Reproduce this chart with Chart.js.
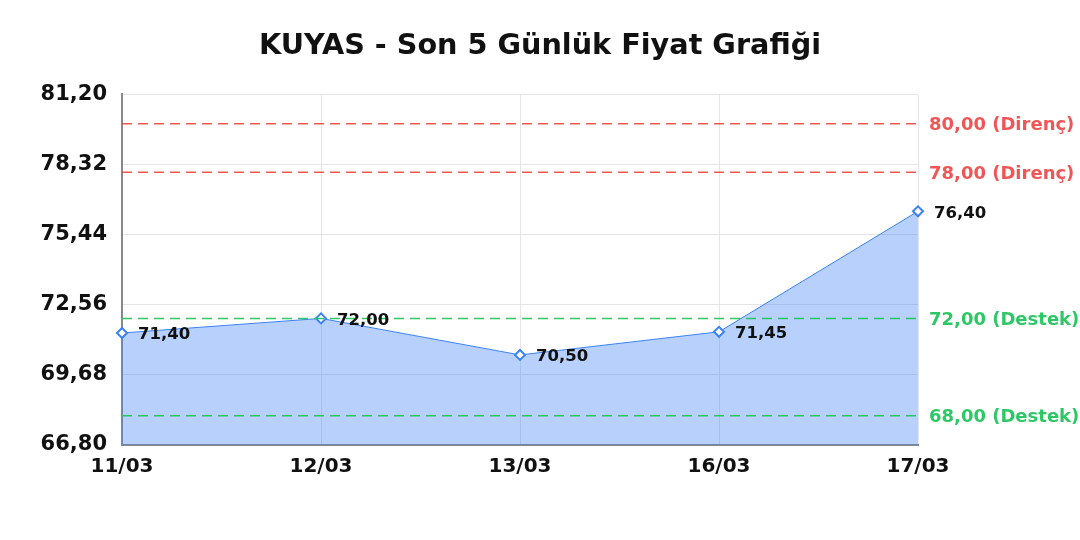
<!DOCTYPE html>
<html>
<head>
<meta charset="utf-8">
<script src="https://cdn.jsdelivr.net/npm/chart.js@4"></script>
<style>
  html, body { margin: 0; padding: 0; background: #fff; }
  #wrap { width: 1080px; height: 540px; }
</style>
</head>
<body>
<div id="wrap"><canvas id="priceChart"></canvas></div>
<script>
// data
const labels = ["11/03", "12/03", "13/03", "16/03", "17/03"];
const prices = [71.40, 72.00, 70.50, 71.45, 76.40];
const yTicks = [66.80, 69.68, 72.56, 75.44, 78.32, 81.20];
const levelValues = [80.00, 78.00, 72.00, 68.00];
const levelNames = ["Direnç", "Direnç", "Destek", "Destek"];

const RED = "rgba(239, 68, 68, 0.9)";
const GREEN = "rgba(34, 197, 94, 0.95)";
const fmt = v => v.toFixed(2).replace(".", ",");

// Support / resistance lines with labels on the right
const levelsPlugin = {
    id: "levels",
    afterDatasetsDraw(chart) {
        const ctx = chart.ctx;
        const area = chart.chartArea;
        const y = chart.scales.y;
        ctx.save();
        levelValues.forEach((v, i) => {
            const color = levelNames[i] === "Direnç" ? RED : GREEN;
            const py = y.getPixelForValue(v);
            ctx.strokeStyle = color;
            ctx.lineWidth = 1.5;
            ctx.setLineDash([10, 6]);
            ctx.beginPath();
            ctx.moveTo(area.left, py);
            ctx.lineTo(area.right, py);
            ctx.stroke();
            ctx.setLineDash([]);
            ctx.fillStyle = color;
            ctx.font = "bold 18px 'DejaVu Sans'";
            ctx.textAlign = "left";
            ctx.textBaseline = "middle";
            ctx.fillText(fmt(v) + " (" + levelNames[i] + ")", area.right + 11, py + 2);
        });
        ctx.restore();
    }
};

// Value labels next to each point
const valueLabels = {
    id: "valueLabels",
    afterDatasetsDraw(chart) {
        const ctx = chart.ctx;
        const meta = chart.getDatasetMeta(0);
        ctx.save();
        ctx.fillStyle = "#111";
        ctx.font = "bold 16.5px 'DejaVu Sans'";
        ctx.textAlign = "left";
        ctx.textBaseline = "middle";
        meta.data.forEach((pt, i) => {
            ctx.fillText(fmt(prices[i]), pt.x + 16, pt.y + 2);
        });
        ctx.restore();
    }
};

const ctx = document.getElementById("priceChart").getContext("2d");
new Chart(ctx, {
    type: "line",
    data: {
        labels: labels,
        datasets: [{
            label: "KUYAS",
            data: prices,
            borderColor: "#3b82f6",
            borderWidth: 1,
            backgroundColor: "rgba(59, 130, 246, 0.37)",
            fill: "start",
            tension: 0,
            pointStyle: "rectRot",
            pointRadius: 5,
            pointBorderWidth: 2,
            pointBackgroundColor: "#fff",
            pointBorderColor: "#3b82f6"
        }]
    },
    options: {
        responsive: true,
        maintainAspectRatio: false,
        animation: false,
        layout: { padding: { left: 0, right: 0, top: 10, bottom: 51 } },
        plugins: {
            legend: { display: false },
            tooltip: { enabled: false },
            title: {
                display: true,
                text: "KUYAS - Son 5 Günlük Fiyat Grafiği",
                color: "#111",
                font: { family: "'DejaVu Sans'", size: 28.7, weight: "bold" },
                padding: { top: 19, bottom: 31 }
            }
        },
        scales: {
            x: {
                offset: false,
                grid: { color: "#e5e5e5", drawTicks: false },
                border: { color: "#888", width: 2 },
                ticks: {
                    color: "#111",
                    padding: 10,
                    maxRotation: 0,
                    font: { family: "'DejaVu Sans'", size: 20, weight: "bold" }
                }
            },
            y: {
                min: 66.8,
                max: 81.2,
                afterBuildTicks: axis => { axis.ticks = yTicks.map(v => ({ value: v })); },
                afterFit: axis => { axis.width = 122; },
                grid: { color: "#e5e5e5", drawTicks: false },
                border: { color: "#888", width: 2 },
                ticks: {
                    color: "#111",
                    padding: 15,
                    callback: v => fmt(v),
                    font: { family: "'DejaVu Sans'", size: 21, weight: "bold" }
                }
            },
            // empty right axis: reserves room for the level labels
            yRight: {
                type: "linear",
                position: "right",
                display: true,
                min: 66.8,
                max: 81.2,
                afterFit: axis => { axis.width = 162; },
                grid: { display: false },
                border: { display: false },
                ticks: { display: false }
            }
        }
    },
    plugins: [levelsPlugin, valueLabels]
});
</script>
</body>
</html>
